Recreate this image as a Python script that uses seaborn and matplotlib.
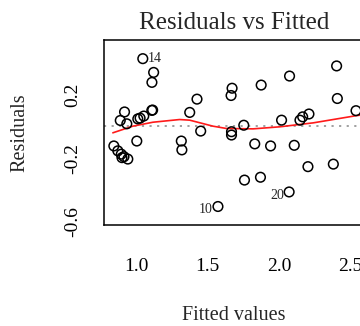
import matplotlib
matplotlib.use("Agg")
import matplotlib.pyplot as plt
import seaborn as sns
import pandas as pd

# values
fitted = [0.843, 0.871, 0.895, 0.914, 0.941, 0.900,
          0.918, 0.888, 0.934, 1.011, 1.027, 1.053, 1.109, 1.115, 1.004, 1.046, 1.122, 1.110,
          1.316, 1.320, 1.375, 1.426, 1.452, 1.672, 1.665, 1.668, 1.668, 1.754,
          2.019, 2.148, 2.167, 2.211, 2.108, 2.541,
          1.573, 1.759, 1.876, 1.831, 1.942, 1.871, 2.075, 2.072, 2.204, 2.382, 2.405, 2.410]
residuals = [-0.123, -0.154, -0.175, -0.191, -0.206, -0.197,
             0.092, 0.038, 0.017, 0.048, 0.053, 0.066, 0.102, 0.104, -0.092, 0.429, 0.342, 0.279,
             -0.092, -0.148, 0.089, 0.173, -0.029, 0.242, 0.196, -0.033, -0.054, 0.008,
             0.040, 0.040, 0.061, 0.079, -0.119, 0.100,
             -0.506, -0.339, 0.262, -0.110, -0.123, -0.321, 0.319, -0.414, -0.254, -0.238, 0.383, 0.177]

# smoother (red line)
smooth_x = [0.836, 0.976, 1.117, 1.304, 1.375, 1.538, 1.632, 1.819, 2.007, 2.241, 2.546, 2.60]
smooth_y = [-0.040, 0.002, 0.027, 0.044, 0.040, 0.002, -0.0125, -0.015, -0.002, 0.023, 0.069, 0.075]

# labelled observations
lab_names = ["14", "10", "20"]
lab_x = [1.046, 1.573, 2.072]
lab_y = [0.429, -0.506, -0.414]

x_ticks = [1.0, 1.5, 2.0, 2.5]
y_ticks = [-0.6, -0.4, -0.2, 0.0, 0.2, 0.4]
y_ticklabels = ["-0.6", "", "-0.2", "", "0.2", ""]

sns.set_theme(style="white")
plt.rcParams["font.family"] = ["Liberation Serif", "DejaVu Serif"]

df = pd.DataFrame({"fitted": fitted, "resid": residuals})
smooth = pd.DataFrame({"x": smooth_x, "y": smooth_y})

fig = plt.figure(figsize=(3.6, 3.26), dpi=100)
ax = fig.add_axes([104 / 360, 101 / 326, 261 / 360, 185 / 326])

# dotted zero line
ax.axhline(0, color="#999999", linestyle=(0, (1.2, 3)), linewidth=1.3, zorder=1)
sns.scatterplot(data=df, x="fitted", y="resid", ax=ax, marker="o", s=48,
                facecolors="none", edgecolor="black", linewidth=1.1, zorder=3)
sns.lineplot(data=smooth, x="x", y="y", ax=ax, color="#ff1a1a", linewidth=1.2,
             sort=False, estimator=None, zorder=2)

ax.text(lab_x[0] + 0.035, lab_y[0], lab_names[0], fontsize=10, ha="left", va="center")
ax.text(lab_x[1] - 0.035, lab_y[1] - 0.02, lab_names[1], fontsize=10, ha="right", va="center")
ax.text(lab_x[2] - 0.035, lab_y[2] - 0.02, lab_names[2], fontsize=10, ha="right", va="center")

ax.set_xticks(x_ticks)
ax.set_xticklabels([f"{v:.1f}" for v in x_ticks])
ax.set_yticks(y_ticks)
ax.set_yticklabels(y_ticklabels, rotation=90, va="center")
ax.set_xlim(0.774, 2.604)
ax.set_ylim(-0.623, 0.547)

for side in ["left", "bottom", "top", "right"]:
    ax.spines[side].set_color("black")
    ax.spines[side].set_linewidth(1.1)

ax.tick_params(axis="both", direction="out", length=8.5, width=1.0, color="black",
               labelsize=14, labelcolor="black")
ax.tick_params(axis="x", pad=15)
ax.tick_params(axis="y", pad=8)

ax.set_title("Residuals vs Fitted", fontsize=18, pad=8)
ax.set_xlabel("Fitted values", fontsize=14.5)
ax.set_ylabel("Residuals", fontsize=14.5)
ax.xaxis.set_label_coords((234 - 104) / 261, -(315 - 225) / 185)
ax.xaxis.label.set_va("center")
ax.yaxis.set_label_coords((19.5 - 104) / 261, 0.5)
ax.yaxis.label.set_va("center")

fig.savefig("out.png", dpi=100)
